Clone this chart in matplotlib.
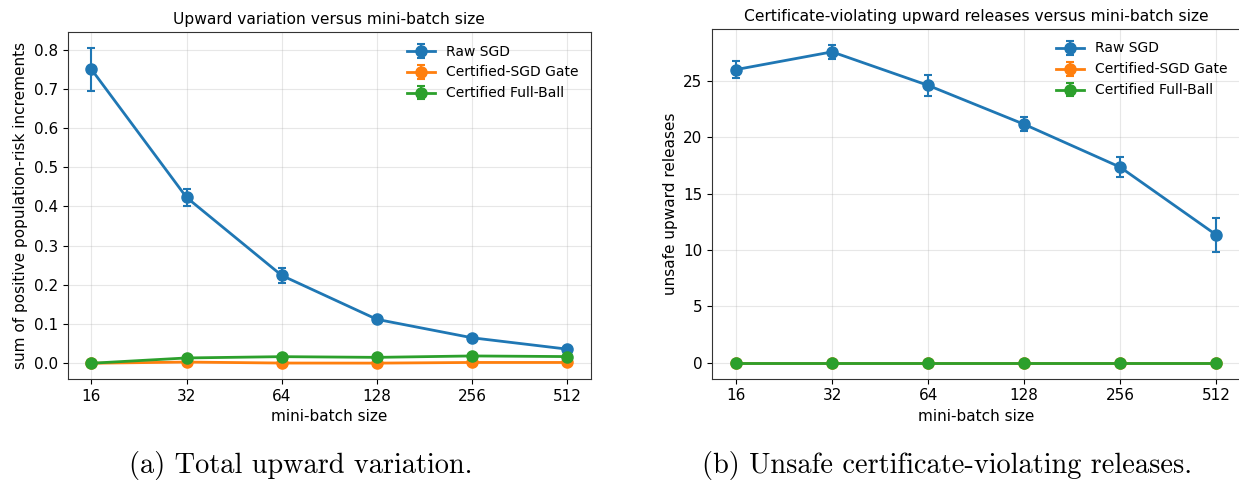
import matplotlib
matplotlib.use('Agg')
import matplotlib.pyplot as plt
import numpy as np

batch_sizes = [16, 32, 64, 128, 256, 512]
methods = ['Raw SGD', 'Certified-SGD Gate', 'Certified Full-Ball']
colors = ['#1f77b4', '#ff7f0e', '#2ca02c']

# (a) sum of positive population-risk increments
var_raw = [0.750, 0.423, 0.224, 0.112, 0.065, 0.036]
var_raw_err = [0.055, 0.021, 0.018, 0.005, 0.003, 0.003]
var_gate = [0.000, 0.003, 0.0005, 0.0003, 0.002, 0.002]
var_gate_err = [0.0, 0.001, 0.0005, 0.0003, 0.001, 0.001]
var_ball = [0.000, 0.0135, 0.0168, 0.015, 0.0186, 0.017]
var_ball_err = [0.0, 0.001, 0.001, 0.001, 0.001, 0.001]

# (b) unsafe upward releases
uns_raw = [26.0, 27.57, 24.6, 21.15, 17.35, 11.35]
uns_raw_err = [0.77, 0.62, 0.9, 0.62, 0.92, 1.52]
uns_gate = [0, 0, 0, 0, 0, 0]
uns_gate_err = [0, 0, 0, 0, 0, 0]
uns_ball = [0, 0, 0, 0, 0, 0]
uns_ball_err = [0, 0, 0, 0, 0, 0]

fig = plt.figure(figsize=(12.39, 4.83), dpi=100)
ax1 = fig.add_axes([0.0546, 0.2153, 0.4224, 0.7184])
ax2 = fig.add_axes([0.5747, 0.2160, 0.4262, 0.7240])


def draw(ax, series, title, ylabel):
    for (vals, errs), name, c in zip(series, methods, colors):
        ax.errorbar(batch_sizes, vals, yerr=errs, color=c, marker='o',
                    markersize=8, linewidth=2, capsize=3, elinewidth=1.5,
                    capthick=1.5, label=name)
    ax.set_xscale('log', base=2)
    ax.set_xticks(batch_sizes)
    ax.set_xticklabels([str(b) for b in batch_sizes])
    ax.minorticks_off()
    ax.grid(True, alpha=0.3)
    ax.set_title(title, fontsize=11.2)
    ax.set_xlabel('mini-batch size', fontsize=11)
    ax.set_ylabel(ylabel, fontsize=11)
    ax.tick_params(labelsize=11)
    for s in ax.spines.values():
        s.set_color('#333333')
    ax.legend(frameon=False, fontsize=10, loc='upper right')


draw(ax1, [(var_raw, var_raw_err), (var_gate, var_gate_err), (var_ball, var_ball_err)],
     'Upward variation versus mini-batch size',
     'sum of positive population-risk increments')
draw(ax2, [(uns_raw, uns_raw_err), (uns_gate, uns_gate_err), (uns_ball, uns_ball_err)],
     'Certificate-violating upward releases versus mini-batch size',
     'unsafe upward releases')

fig.text(301 / 1239, 0.037, '(a) Total upward variation.', fontfamily='cmr10',
         fontsize=20.4, ha='center', va='center')
fig.text(947 / 1239, 0.037, '(b) Unsafe certificate-violating releases.',
         fontfamily='cmr10', fontsize=20.4, ha='center', va='center')

fig.savefig('out.png', dpi=100)
